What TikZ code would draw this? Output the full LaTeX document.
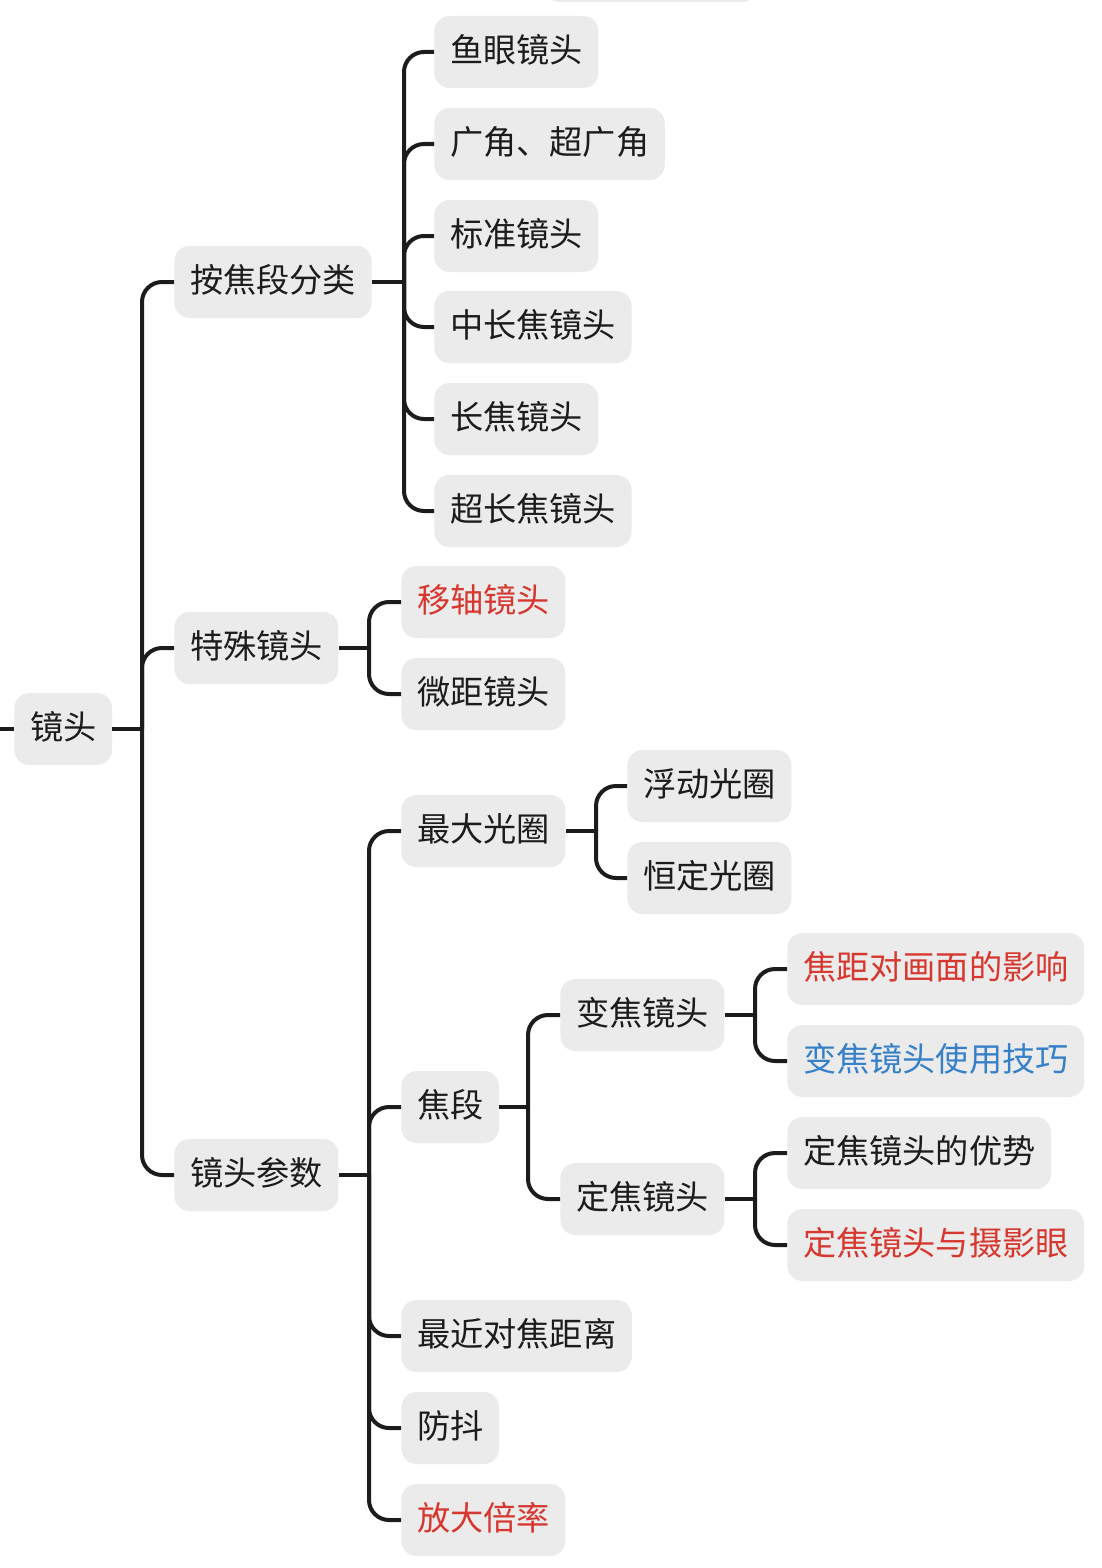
\documentclass[tikz,border=0pt]{standalone}
\usepackage{fontspec}
\newfontfamily\cjk{Noto Sans CJK SC}
\usetikzlibrary{positioning}
\definecolor{boxgray}{HTML}{EBEBEB}
\definecolor{inkblack}{HTML}{1C1C1C}
\definecolor{txtred}{HTML}{D6372F}
\definecolor{txtblue}{HTML}{3580C8}

\begin{document}
\begin{tikzpicture}[
  x=0.5pt, y=-0.5pt,
  every node/.style={font=\cjk\fontsize{16.6}{18}\selectfont, text=inkblack},
  topic/.style={fill=boxgray, rounded corners=7.5pt, minimum height=36pt,
                inner xsep=7.8pt, inner ysep=0pt, text height=1.08em,
                text depth=0em, anchor=west},
  hot/.style={text=txtred},
  tip/.style={text=txtblue},
  link/.style={draw=inkblack, line width=2pt, rounded corners=10pt}
]
  \useasboundingbox (0,0) rectangle (1102,1568);
  % box cut off by the top edge
  \fill[boxgray, rounded corners=7.5pt] (545,-80) rectangle (757,2);

  % root and first level
  \node[topic] (root) at (14,729) {镜头};
  \node[topic] (focal) at (174,282) {按焦段分类};
  \node[topic] (special) at (174,648) {特殊镜头};
  \node[topic] (param) at (174,1175) {镜头参数};

  % by focal range
  \node[topic] (fisheye) at (434,52) {鱼眼镜头};
  \node[topic] (wide) at (434,144) {广角、超广角};
  \node[topic] (standard) at (434,236) {标准镜头};
  \node[topic] (midtele) at (434,327) {中长焦镜头};
  \node[topic] (tele) at (434,419) {长焦镜头};
  \node[topic] (supertele) at (434,511) {超长焦镜头};

  % special lenses
  \node[topic, hot] (tilt) at (401,602) {移轴镜头};
  \node[topic] (macro) at (401,694) {微距镜头};

  % lens parameters
  \node[topic] (aperture) at (401,831) {最大光圈};
  \node[topic] (flen) at (401,1107) {焦段};
  \node[topic] (mfd) at (401,1336) {最近对焦距离};
  \node[topic] (stab) at (401,1428) {防抖};
  \node[topic, hot] (magn) at (401,1520) {放大倍率};

  \node[topic] (floatap) at (627,786) {浮动光圈};
  \node[topic] (constap) at (627,878) {恒定光圈};

  \node[topic] (zoomlens) at (560,1015) {变焦镜头};
  \node[topic] (primelens) at (560,1199) {定焦镜头};

  \node[topic, hot] (zimpact) at (787,969) {焦距对画面的影响};
  \node[topic, tip] (ztips) at (787,1061) {变焦镜头使用技巧};
  \node[topic] (pgood) at (787,1153) {定焦镜头的优势};
  \node[topic, hot] (peye) at (787,1245) {定焦镜头与摄影眼};

  % junctions
  \coordinate (lft) at (0,729);
  \coordinate (jroot) at (142,729);
  \coordinate (jfocal) at (404,282);
  \coordinate (jspecial) at (369,648);
  \coordinate (jparam) at (369,1175);
  \coordinate (japerture) at (596,831);
  \coordinate (jflen) at (528,1107);
  \coordinate (jzoom) at (755,1015);
  \coordinate (jprime) at (755,1199);

  % connectors
  \draw[link] (lft) -- (root.west);
  \draw[link] (root.east) -- (jroot);
  \foreach \c in {focal,special,param}
    \draw[link] (jroot) |- (\c.west);
  \draw[link] (focal.east) -- (jfocal);
  \foreach \c in {fisheye,wide,standard,midtele,tele,supertele}
    \draw[link] (jfocal) |- (\c.west);
  \draw[link] (special.east) -- (jspecial);
  \foreach \c in {tilt,macro}
    \draw[link] (jspecial) |- (\c.west);
  \draw[link] (param.east) -- (jparam);
  \foreach \c in {aperture,flen,mfd,stab,magn}
    \draw[link] (jparam) |- (\c.west);
  \draw[link] (aperture.east) -- (japerture);
  \foreach \c in {floatap,constap}
    \draw[link] (japerture) |- (\c.west);
  \draw[link] (flen.east) -- (jflen);
  \foreach \c in {zoomlens,primelens}
    \draw[link] (jflen) |- (\c.west);
  \draw[link] (zoomlens.east) -- (jzoom);
  \foreach \c in {zimpact,ztips}
    \draw[link] (jzoom) |- (\c.west);
  \draw[link] (primelens.east) -- (jprime);
  \foreach \c in {pgood,peye}
    \draw[link] (jprime) |- (\c.west);
\end{tikzpicture}
\end{document}
